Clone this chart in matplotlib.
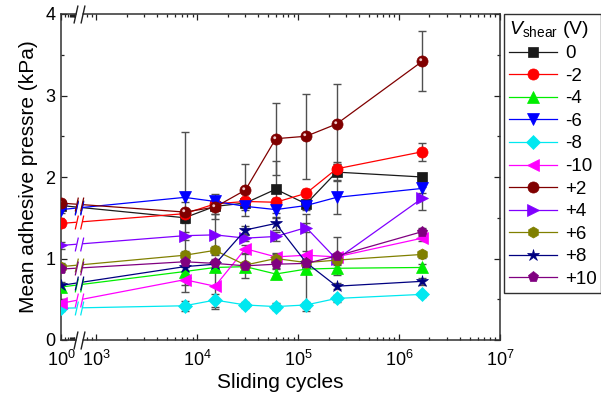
import numpy as np
import matplotlib
matplotlib.use("Agg")
import matplotlib.pyplot as plt
from matplotlib.path import Path
import matplotlib.transforms as mtransforms

plt.rcParams['font.family'] = ['Liberation Sans', 'DejaVu Sans']
plt.rcParams['mathtext.fontset'] = 'custom'
plt.rcParams['mathtext.rm'] = 'Liberation Sans'
plt.rcParams['mathtext.it'] = 'Liberation Sans:italic'

# sliding cycles
cycles = [1, 7.5e3, 1.5e4, 3e4, 6e4, 1.2e5, 2.4e5, 1.7e6]

labels = ['0', '-2', '-4', '-6', '-8', '-10', '+2', '+4', '+6', '+8', '+10']

v_0 = [1.65, 1.50, 1.64, 1.68, 1.85, 1.67, 2.06, 2.00]
v_m2 = [1.43, 1.55, 1.67, 1.70, 1.69, 1.80, 2.10, 2.31]
v_m4 = [0.65, 0.84, 0.89, 0.90, 0.81, 0.87, 0.88, 0.89]
v_m6 = [1.60, 1.75, 1.70, 1.64, 1.60, 1.65, 1.75, 1.86]
v_m8 = [0.39, 0.42, 0.49, 0.43, 0.41, 0.43, 0.51, 0.56]
v_m10 = [0.45, 0.74, 0.66, 1.12, 1.02, 1.04, 1.02, 1.25]
v_p2 = [1.68, 1.57, 1.63, 1.84, 2.47, 2.50, 2.65, 3.42]
v_p4 = [1.16, 1.28, 1.29, 1.25, 1.27, 1.38, 0.99, 1.74]
v_p6 = [0.90, 1.04, 1.10, 0.92, 1.00, 0.95, 0.98, 1.05]
v_p8 = [0.67, 0.90, 0.93, 1.35, 1.43, 0.95, 0.66, 0.72]
v_p10 = [0.87, 0.96, 0.94, 0.91, 0.93, 0.94, 1.03, 1.33]

e_0 = [0.04, 0.06, 0.15, 0.05, 0.35, 0.05, 0.10, 0.05]
e_m2 = [0.04, 0.05, 0.08, 0.05, 0.05, 0.05, 0.08, 0.11]
e_m4 = [0.03, 0.05, 0.05, 0.04, 0.06, 0.04, 0.04, 0.04]
e_m6 = [0.04, 0.06, 0.06, 0.05, 0.04, 0.05, 0.20, 0.06]
e_m8 = [0.03, 0.06, 0.08, 0.04, 0.04, 0.04, 0.04, 0.03]
e_m10 = [0.05, 0.06, 0.28, 0.05, 0.05, 0.05, 0.05, 0.04]
e_p2 = [0.04, 0.98, 0.08, 0.32, 0.44, 0.52, 0.49, 0.37]
e_p4 = [0.04, 0.05, 0.25, 0.04, 0.05, 0.05, 0.05, 0.14]
e_p6 = [0.04, 0.05, 0.05, 0.04, 0.05, 0.05, 0.05, 0.04]
e_p8 = [0.04, 0.05, 0.05, 0.05, 0.08, 0.60, 0.04, 0.04]
e_p10 = [0.04, 0.05, 0.05, 0.15, 0.05, 0.05, 0.23, 0.05]

values = [v_0, v_m2, v_m4, v_m6, v_m8, v_m10, v_p2, v_p4, v_p6, v_p8, v_p10]
errors = [e_0, e_m2, e_m4, e_m6, e_m8, e_m10, e_p2, e_p4, e_p6, e_p8, e_p10]
colors = ['#1a1a1a', '#ff0000', '#00ee00', '#0000ff', '#00e8f0', '#ff00ff',
          '#800000', '#8000ff', '#808000', '#000080', '#800080']
markers = ['s', 'o', '^', 'v', 'D', '<', 'o', '>', 'h', '*', 'p']
msizes = [7, 8, 8, 8, 7, 8, 8, 8, 8, 9, 8]


# broken log axis: 10^0 decade squeezed, gap, then 10^3..10^7
def fwd(x):
    l = np.log10(np.clip(np.asarray(x, dtype=float), 1e-300, None))
    return np.where(l <= 1, 0.14 * l,
                    np.where(l >= 2.89, l - 2.65, 0.14 + (l - 1) * 0.10 / 1.89))


def inv(f):
    f = np.asarray(f, dtype=float)
    return np.where(f <= 0.14, 10 ** (f / 0.14),
                    np.where(f >= 0.24, 10 ** (f + 2.65), 10 ** (1 + (f - 0.14) * 1.89 / 0.10)))


fig = plt.figure(figsize=(6.01, 3.96), dpi=100)
ax = fig.add_axes([61 / 601, 1 - 340 / 396, 439 / 601, 326 / 396])
ax.set_xscale('function', functions=(fwd, inv))
ax.set_xlim(1, 1e7)
ax.set_ylim(0, 4)

x_break = 10 ** 1.75

# sphere highlight marker (offset small circle)
circ = Path.circle((-0.32, 0.32), 0.26)
hl_path = Path(np.vstack([[[1, 1], [1, 1], [1, 1]], circ.vertices]),
               np.concatenate([[Path.MOVETO, Path.LINETO, Path.CLOSEPOLY], circ.codes]))

slash = Path([(-0.55, -0.9), (-0.15, 0.9), (0.15, -0.9), (0.55, 0.9)],
             [Path.MOVETO, Path.LINETO, Path.MOVETO, Path.LINETO])

for i in range(len(values)):
    ax.errorbar(cycles, values[i], yerr=errors[i], fmt='none', ecolor='#505050',
                elinewidth=1.0, capsize=3, capthick=1.0, zorder=2)

for i in range(len(values)):
    ax.plot(cycles, values[i], color=colors[i], lw=0.9, marker=markers[i],
            ms=msizes[i], mfc=colors[i], mec=colors[i], mew=0.5,
            label=labels[i], zorder=3 + i * 0.01)
    # break marks on the first segment
    f0, f1, fb = fwd(cycles[0]), fwd(cycles[1]), fwd(x_break)
    yb = values[i][0] + (values[i][1] - values[i][0]) * (fb - f0) / (f1 - f0)
    ax.plot([x_break], [yb], marker='s', ms=4, mfc='white', mec='none',
            ls='none', zorder=3.5)
    ax.plot([x_break], [yb], marker=slash, ms=10, mec=colors[i], mew=0.9,
            ls='none', zorder=3.6)

# highlight on the +2 spheres
ax.plot(cycles, v_p2, ls='none', marker=hl_path, ms=8, mfc='#f0c8c8',
        mec='none', zorder=3.2)

# break marks on the spines
trans = mtransforms.blended_transform_factory(ax.transData, ax.transAxes)
for yy in [0, 1]:
    ax.plot([x_break], [yy], transform=trans, marker='s', ms=5, mfc='white',
            mec='none', clip_on=False, zorder=5)
    ax.plot([x_break], [yy], transform=trans, marker=slash, ms=13, mec='#202020',
            mew=1.0, clip_on=False, zorder=5.1)

major = [1, 1e3, 1e4, 1e5, 1e6, 1e7]
ax.set_xticks(major)
ax.set_xticklabels(['$10^{0}$', '$10^{3}$', '$10^{4}$', '$10^{5}$', '$10^{6}$', '$10^{7}$'])
minor = [k * 10 ** d for d in [0, 2, 3, 4, 5, 6] for k in range(2, 10)]
minor = [m for m in minor if m < 10 or m > 10 ** 2.89]
ax.set_xticks(minor, minor=True)
ax.set_yticks([0, 1, 2, 3, 4])
ax.set_yticks([0.5, 1.5, 2.5, 3.5], minor=True)

ax.tick_params(which='both', direction='in', top=True, right=True,
               labelsize=13, width=0.9, colors='#202020', labelcolor='black')
ax.tick_params(which='major', length=4.5)
ax.tick_params(which='minor', length=2.5)
ax.tick_params(axis='x', which='major', pad=7)
ax.tick_params(axis='y', which='major', pad=4)
for s in ax.spines.values():
    s.set_linewidth(1.1)
    s.set_color('#303030')

ax.set_xlabel('Sliding cycles', fontsize=15, labelpad=2)
ax.set_ylabel('Mean adhesive pressre (kPa)', fontsize=15, labelpad=5)

leg = ax.legend(loc='upper left', bbox_to_anchor=(504 / 601, 1 - 14 / 396),
                bbox_transform=fig.transFigure, borderaxespad=0,
                title=r'$V_{\mathrm{shear}}$ (V)', fontsize=13.5, title_fontsize=14,
                fancybox=False, edgecolor='#303030', framealpha=1,
                handlelength=2.6, handletextpad=0.4, labelspacing=0.29,
                borderpad=0.25, numpoints=1)
leg.get_frame().set_linewidth(1.0)
leg._legend_box.align = 'left'

fig.savefig('out.png', dpi=100)
